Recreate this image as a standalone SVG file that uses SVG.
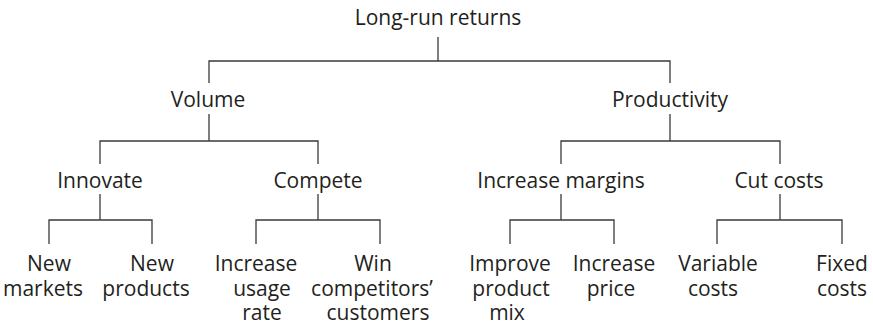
<svg xmlns="http://www.w3.org/2000/svg" width="873" height="327" viewBox="0 0 873 327">
<style>
text{font-family:"Open Sans","DejaVu Sans",sans-serif;font-size:21px;fill:#231f20;text-anchor:middle}
.c path{fill:none;stroke:#3a3a3a;stroke-width:1.3}
</style>
<rect width="873" height="327" fill="#fff"/>
<g class="c" id="connectors">
<path d="M438,37V61M209,83V61H670V83"/>
<path d="M209,114V141M100,164V141H318V164"/>
<path d="M670,114V141M561,164V141H780V164"/>
<path d="M100,194V220M49,244V220H152V244"/>
<path d="M318,194V220M256,244V220H380V244"/>
<path d="M561,194V220M510,244V220H614V244"/>
<path d="M780,194V220M717,244V220H842V244"/>
</g>
<g id="n-root"><text x="438" y="25">Long-run returns</text></g>
<g id="n-volume"><text x="208" y="107">Volume</text></g>
<g id="n-productivity"><text x="670" y="107">Productivity</text></g>
<g id="n-innovate"><text x="100" y="188">Innovate</text></g>
<g id="n-compete"><text x="318" y="188">Compete</text></g>
<g id="n-margins"><text x="561" y="188">Increase margins</text></g>
<g id="n-cutcosts"><text x="779" y="188">Cut costs</text></g>
<g id="n-newmarkets"><text y="271"><tspan x="49">New</tspan><tspan x="43" y="296">markets</tspan></text></g>
<g id="n-newproducts"><text y="271"><tspan x="152">New</tspan><tspan x="146" y="296">products</tspan></text></g>
<g id="n-usage"><text y="271"><tspan x="256">Increase</tspan><tspan x="262" y="296">usage</tspan><tspan x="262" y="320">rate</tspan></text></g>
<g id="n-win"><text y="271"><tspan x="373">Win</tspan><tspan x="372" y="296">competitors’</tspan><tspan x="378" y="320">customers</tspan></text></g>
<g id="n-mix"><text y="271"><tspan x="510">Improve</tspan><tspan x="511" y="296">product</tspan><tspan x="507" y="320">mix</tspan></text></g>
<g id="n-price"><text y="271"><tspan x="614">Increase</tspan><tspan x="611" y="296">price</tspan></text></g>
<g id="n-variable"><text y="271"><tspan x="718">Variable</tspan><tspan x="713" y="296">costs</tspan></text></g>
<g id="n-fixed"><text y="271"><tspan x="842">Fixed</tspan><tspan x="842" y="296">costs</tspan></text></g>
</svg>
